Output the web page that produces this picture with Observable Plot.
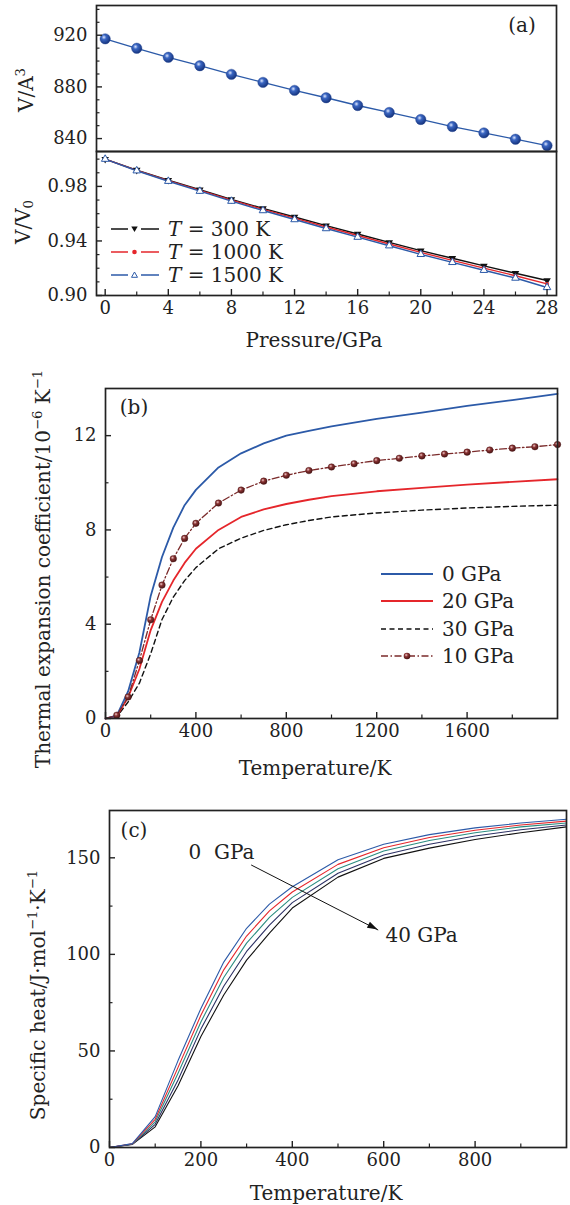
<!DOCTYPE html>
<html><head><meta charset="utf-8">
<script src="https://cdn.jsdelivr.net/npm/d3@7"></script>
<script src="https://cdn.jsdelivr.net/npm/@observablehq/plot@0.6"></script>
<style>
body{margin:0;background:#fff;width:570px;height:1205px;position:relative;overflow:hidden;font-family:"DejaVu Serif",serif;color:#222}
.pane{position:absolute;left:0}
.t{position:absolute;white-space:nowrap;font-size:20px;line-height:1;transform:translate(-50%,-50%)}
.r{transform:translate(-50%,-50%) rotate(-90deg)}
sup{font-size:0.66em;vertical-align:0.6em;line-height:0}
sub{font-size:0.66em;vertical-align:-0.25em;line-height:0}
.leg{position:absolute;font-size:20px;line-height:1;white-space:nowrap;display:flex;align-items:center;height:22px}
.leg svg{display:block}
</style></head><body>
<svg width="0" height="0" style="position:absolute">
  <defs>
    <radialGradient id="sphA" cx="38%" cy="35%" r="65%">
      <stop offset="0%" stop-color="#dfe8ff"/>
      <stop offset="35%" stop-color="#3a66c2"/>
      <stop offset="100%" stop-color="#16347e"/>
    </radialGradient>
    <radialGradient id="sphB" cx="38%" cy="35%" r="65%">
      <stop offset="0%" stop-color="#f0caca"/>
      <stop offset="40%" stop-color="#8a3434"/>
      <stop offset="100%" stop-color="#4a1414"/>
    </radialGradient>
  </defs>
</svg>
<script>
// ---------- data ----------
// panel (a)
const pressure = [0, 2, 4, 6, 8, 10, 12, 14, 16, 18, 20, 22, 24, 26, 28];
const cellVolume = [917.2, 909.9, 902.9, 896.4, 889.7, 883.5, 877.3, 871.6, 865.6, 860.2, 854.8, 849.3, 844.4, 839.5, 834.6];
const ratio300 = [1.0000, 0.9920, 0.9846, 0.9776, 0.9705, 0.9639, 0.9576, 0.9512, 0.9451, 0.9390, 0.9329, 0.9273, 0.9217, 0.9163, 0.9110];
const ratio1000 = [1.0000, 0.9918, 0.9843, 0.9771, 0.9699, 0.9632, 0.9567, 0.9502, 0.9440, 0.9378, 0.9316, 0.9258, 0.9201, 0.9145, 0.9085];
const ratio1500 = [1.0000, 0.9915, 0.9838, 0.9765, 0.9692, 0.9623, 0.9557, 0.9491, 0.9428, 0.9365, 0.9302, 0.9243, 0.9185, 0.9128, 0.9059];
const tempSeriesA = ["T = 300 K", "T = 1000 K", "T = 1500 K"];

// panel (b)
const tempB = [0, 50, 100, 150, 200, 250, 300, 350, 400, 500, 600, 700, 800, 900, 1000, 1200, 1400, 1600, 1800, 2000];
const alpha0 = [0, 0.12, 1.15, 2.8, 5.2, 6.85, 8.1, 9.05, 9.7, 10.65, 11.25, 11.67, 12.0, 12.2, 12.39, 12.71, 12.98, 13.26, 13.51, 13.77];
const alpha20 = [0, 0.1, 0.9, 2.1, 3.75, 4.95, 5.85, 6.6, 7.2, 8.0, 8.55, 8.87, 9.1, 9.28, 9.43, 9.64, 9.78, 9.92, 10.04, 10.15];
const alpha30 = [0, 0.08, 0.7, 1.5, 2.75, 4.2, 5.15, 5.85, 6.4, 7.2, 7.65, 7.98, 8.22, 8.4, 8.55, 8.72, 8.84, 8.93, 9.0, 9.05];
const tempB10 = [0, 50, 100, 150, 200, 250, 300, 350, 400, 500, 600, 700, 800, 900, 1000, 1100, 1200, 1300, 1400, 1500, 1600, 1700, 1800, 1900, 2000];
const alpha10 = [0, 0.14, 0.91, 2.46, 4.19, 5.66, 6.78, 7.64, 8.28, 9.14, 9.69, 10.07, 10.32, 10.52, 10.67, 10.81, 10.94, 11.04, 11.14, 11.22, 11.3, 11.39, 11.47, 11.53, 11.62];
const seriesB = ["0 GPa", "20 GPa", "30 GPa", "10 GPa"];

// panel (c)
const tempC = [0, 50, 100, 150, 200, 250, 300, 350, 400, 500, 600, 700, 800, 900, 1000];
const cv0 = [0, 2.0, 16.0, 45.0, 72.0, 96.0, 113.5, 126.0, 135.0, 149.0, 157.0, 162.0, 165.5, 168.0, 170.0];
const cv10 = [0, 1.9, 14.6, 41.5, 68.5, 92.0, 109.5, 122.5, 132.3, 146.6, 155.2, 160.5, 164.3, 167.0, 169.0];
const cv20 = [0, 1.8, 13.3, 38.5, 65.0, 88.0, 105.8, 119.2, 129.5, 144.3, 153.5, 159.0, 163.0, 166.0, 168.0];
const cv30 = [0, 1.7, 12.0, 35.0, 61.3, 83.5, 101.5, 115.2, 126.8, 142.0, 151.5, 157.0, 161.3, 164.5, 167.0];
const cv40 = [0, 1.6, 10.7, 32.0, 57.5, 79.0, 97.0, 111.0, 124.0, 140.0, 149.7, 155.0, 159.5, 163.0, 166.0];
const annotC = [{x1: 310, y1: 146.3, x2: 588, y2: 112.6}];
const labelsC = [{x: 173, y: 152.5, text: "0\u00a0\u00a0GPa"}, {x: 604, y: 109.6, text: "40 GPa"}];

// ticks
const xTicksA = [0, 4, 8, 12, 16, 20, 24, 28], xMinorA = [2, 6, 10, 14, 18, 22, 26];
const yTicksA1 = [840, 880, 920], yMinorA1 = [850, 860, 870, 890, 900, 910, 930, 940];
const yTicksA2 = [0.90, 0.94, 0.98], yMinorA2 = [0.91, 0.92, 0.93, 0.95, 0.96, 0.97, 0.99, 1.00];
const xTicksB = [0, 400, 800, 1200, 1600], xMinorB = [200, 600, 1000, 1400, 1800];
const yTicksB = [0, 4, 8, 12], yMinorB = [2, 6, 10];
const xTicksC = [0, 200, 400, 600, 800], xMinorC = [100, 300, 500, 700, 900];
const yTicksC = [0, 50, 100, 150], yMinorC = [25, 75, 125];

// ---------- style ----------
const FONT = "DejaVu Serif";
const INK = "#222";
const cBlue = "#2c5aa8", cRed = "#e5262b", cBrown = "#7b2b2b", cTeal = "#2b8c80", cNavy = "#2c3064";

function pane(top, opts) {
  const div = document.createElement("div");
  div.className = "pane";
  div.style.top = top + "px";
  div.appendChild(Plot.plot({
    width: 570,
    style: {fontFamily: FONT, fontSize: "18px", background: "transparent", color: INK, overflow: "visible"},
    ...opts
  }));
  document.body.appendChild(div);
}
const blank = () => "";
function axesMarks({xMaj, xMin, yMaj, yMin, xFmt, yFmt, xText = true}) {
  const m = [];
  if (xMaj) {
    m.push(Plot.axisX(xMaj, {tickSize: -6, tickPadding: 12, tickFormat: xText ? xFmt : blank, label: null, strokeWidth: 1.4}));
    m.push(Plot.axisX(xMin, {tickSize: -3.5, tickFormat: blank, label: null, strokeWidth: 1.2}));
  }
  m.push(Plot.axisY(yMaj, {tickSize: -6, tickPadding: 15, tickFormat: yFmt, label: null, strokeWidth: 1.4}));
  m.push(Plot.axisY(yMin, {tickSize: -3.5, tickFormat: blank, label: null, strokeWidth: 1.2}));
  m.push(Plot.frame({stroke: INK, strokeWidth: 1.7}));
  return m;
}
// filled arrow head drawn through the plot's own scales
function arrowHead(data) {
  return (index, scales) => {
    const g = document.createElementNS("http://www.w3.org/2000/svg", "g");
    for (const d of data) {
      const x1 = scales.x(d.x1), y1 = scales.y(d.y1), x2 = scales.x(d.x2), y2 = scales.y(d.y2);
      const a = Math.atan2(y2 - y1, x2 - x1), L = 11, w = 0.3;
      const p = document.createElementNS("http://www.w3.org/2000/svg", "path");
      p.setAttribute("d", `M${x2},${y2}L${x2 - L * Math.cos(a - w)},${y2 - L * Math.sin(a - w)}L${x2 - L * Math.cos(a + w)},${y2 - L * Math.sin(a + w)}Z`);
      p.setAttribute("fill", "#111");
      g.appendChild(p);
    }
    return g;
  };
}

// ---------- panel (a) top ----------
pane(0, {
  height: 152, marginTop: 5, marginBottom: 1, marginLeft: 96, marginRight: 14,
  x: {domain: [-0.55, 28.6], axis: null},
  y: {domain: [830, 943]},
  marks: [
    Plot.line(pressure, {x: pressure, y: cellVolume, stroke: cBlue, strokeWidth: 1.3}),
    Plot.dot(pressure, {x: pressure, y: cellVolume, r: 5.2, fill: "url(#sphA)", stroke: "#1d3f8f", strokeWidth: 0.4}),
    ...axesMarks({yMaj: yTicksA1, yMin: yMinorA1, yFmt: d => String(d)})
  ]
});

// ---------- panel (a) bottom ----------
pane(150, {
  height: 176, marginTop: 1, marginBottom: 31, marginLeft: 96, marginRight: 14,
  x: {domain: [-0.55, 28.6]},
  y: {domain: [0.90, 1.0056]},
  marks: [
    Plot.line(pressure, {x: pressure, y: ratio300, stroke: "#111", strokeWidth: 1.4}),
    Plot.line(pressure, {x: pressure, y: ratio1000, stroke: cRed, strokeWidth: 1.4}),
    Plot.line(pressure, {x: pressure, y: ratio1500, stroke: cBlue, strokeWidth: 1.4}),
    Plot.dot(pressure, {x: pressure, y: ratio300, symbol: "triangle", rotate: 180, r: 2.8, fill: "#111"}),
    Plot.dot(pressure, {x: pressure, y: ratio1000, r: 2, fill: cRed}),
    Plot.dot(pressure, {x: pressure, y: ratio1500, symbol: "triangle", r: 2.8, fill: "white", stroke: cBlue, strokeWidth: 1}),
    ...axesMarks({xMaj: xTicksA, xMin: xMinorA, yMaj: yTicksA2, yMin: yMinorA2, xFmt: d => String(d), yFmt: d => d.toFixed(2)})
  ]
});

// ---------- panel (b) ----------
pane(380, {
  height: 368, marginTop: 8, marginBottom: 30, marginLeft: 105, marginRight: 13,
  x: {domain: [0, 2000]},
  y: {domain: [0, 14]},
  marks: [
    Plot.line(tempB, {x: tempB, y: alpha30, stroke: "#111", strokeWidth: 1.4, strokeDasharray: "5,3.5"}),
    Plot.line(tempB, {x: tempB, y: alpha20, stroke: cRed, strokeWidth: 1.8}),
    Plot.line(tempB, {x: tempB, y: alpha0, stroke: cBlue, strokeWidth: 1.8}),
    Plot.line(tempB10, {x: tempB10, y: alpha10, stroke: cBrown, strokeWidth: 1.3, strokeDasharray: "7,2.5,1.5,2.5"}),
    Plot.dot(tempB10, {x: tempB10, y: alpha10, filter: (d) => d > 0, r: 3.3, fill: "url(#sphB)", stroke: "#4a1414", strokeWidth: 0.4}),
    ...axesMarks({xMaj: xTicksB, xMin: xMinorB, yMaj: yTicksB, yMin: yMinorB, xFmt: d => String(d), yFmt: d => String(d)})
  ]
});

// ---------- panel (c) ----------
pane(800, {
  height: 377, marginTop: 10, marginBottom: 30, marginLeft: 109, marginRight: 4,
  x: {domain: [0, 1000]},
  y: {domain: [0, 174.5]},
  marks: [
    Plot.line(tempC, {x: tempC, y: cv40, stroke: "#111", strokeWidth: 1.1}),
    Plot.line(tempC, {x: tempC, y: cv30, stroke: cNavy, strokeWidth: 1.1}),
    Plot.line(tempC, {x: tempC, y: cv20, stroke: cTeal, strokeWidth: 1.1}),
    Plot.line(tempC, {x: tempC, y: cv10, stroke: cRed, strokeWidth: 1.1}),
    Plot.line(tempC, {x: tempC, y: cv0, stroke: cBlue, strokeWidth: 1.1}),
    Plot.link(annotC, {x1: "x1", y1: "y1", x2: "x2", y2: "y2", stroke: "#111", strokeWidth: 1}),
    arrowHead(annotC),
    Plot.text(labelsC, {x: "x", y: "y", text: "text", textAnchor: "start", fontSize: 20, fill: INK}),
    ...axesMarks({xMaj: xTicksC, xMin: xMinorC, yMaj: yTicksC, yMin: yMinorC, xFmt: d => String(d), yFmt: d => String(d)})
  ]
});

// ---------- HTML texts ----------
function txt(html, x, y, rot) {
  const d = document.createElement("div");
  d.className = "t" + (rot ? " r" : "");
  d.style.left = x + "px"; d.style.top = y + "px";
  d.innerHTML = html;
  document.body.appendChild(d);
}
txt("V/A<sup>3</sup>", 26, 90, true);
txt("V/V<sub>0</sub>", 23, 222, true);
txt("Pressure/GPa", 314, 340);
txt("(a)", 522, 25);
txt("Thermal expansion coefficient/10<sup>−6</sup> K<sup>−1</sup>", 43, 569, true);
txt("Temperature/K", 315, 768);
txt("(b)", 134, 407);
txt("Specific heat/J·mol<sup>−1</sup>·K<sup>−1</sup>", 38, 995, true);
txt("Temperature/K", 326, 1193);
txt("(c)", 134, 830);

// ---------- legends ----------
const NS = "http://www.w3.org/2000/svg";
function legend(x, y, w, draw, html) {
  const d = document.createElement("div");
  d.className = "leg";
  d.style.left = x + "px"; d.style.top = (y - 11) + "px";
  const s = document.createElementNS(NS, "svg");
  s.setAttribute("width", w); s.setAttribute("height", 22);
  s.innerHTML = draw;
  d.appendChild(s);
  const sp = document.createElement("span");
  sp.style.marginLeft = "9px";
  sp.innerHTML = html;
  d.appendChild(sp);
  document.body.appendChild(d);
}
const segs = (c) => `<line x1="0" y1="11" x2="17" y2="11" stroke="${c}" stroke-width="1.5"/><line x1="30" y1="11" x2="48" y2="11" stroke="${c}" stroke-width="1.5"/>`;
const legA = [
  [segs("#111") + `<path d="M20.3,8.5 L26.7,8.5 L23.5,14 Z" fill="#111"/>`, "<i>T</i> = 300 K"],
  [segs(cRed) + `<circle cx="23.5" cy="11" r="2.3" fill="${cRed}"/>`, "<i>T</i> = 1000 K"],
  [segs(cBlue) + `<path d="M23.5,8 L26.5,13.3 L20.5,13.3 Z" fill="white" stroke="${cBlue}" stroke-width="1"/>`, "<i>T</i> = 1500 K"]
];
const legAY = [228.5, 251.8, 275];
legA.forEach((l, i) => legend(111, legAY[i], 48, l[0], l[1]));

const legB = [
  `<line x1="0" y1="11" x2="52" y2="11" stroke="${cBlue}" stroke-width="1.8"/>`,
  `<line x1="0" y1="11" x2="52" y2="11" stroke="${cRed}" stroke-width="1.8"/>`,
  `<line x1="0" y1="11" x2="52" y2="11" stroke="#111" stroke-width="1.4" stroke-dasharray="5,3.5"/>`,
  `<line x1="0" y1="11" x2="52" y2="11" stroke="${cBrown}" stroke-width="1.3" stroke-dasharray="7,2.5,1.5,2.5"/><circle cx="26" cy="11" r="3.3" fill="url(#sphB)"/>`
];
const legBY = [573.5, 601, 628.5, 656];
legB.forEach((l, i) => legend(381, legBY[i], 52, l, seriesB[i]));
</script>
</body></html>
